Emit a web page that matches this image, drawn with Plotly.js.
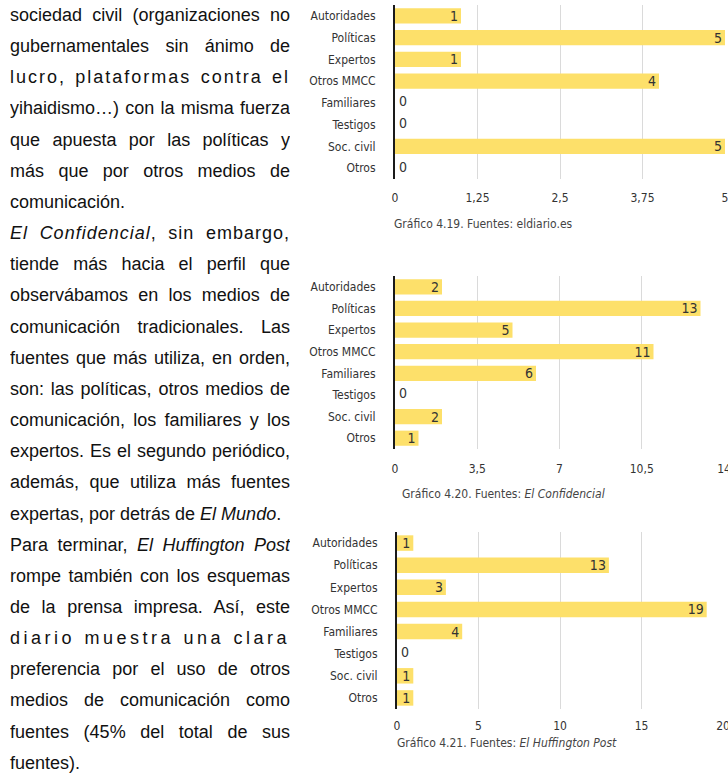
<!DOCTYPE html>
<html>
<head>
<meta charset="utf-8">
<script src="https://cdn.plot.ly/plotly-3.0.1.min.js"></script>
<style>
  html, body { margin: 0; padding: 0; background: #fff; }
  #wrap { position: relative; width: 728px; height: 782px; overflow: hidden; }
  #chart { position: absolute; left: 0; top: 0; width: 728px; height: 782px; }
  #text { position: absolute; left: 10px; top: 0px; width: 280px;
          font-family: "Liberation Sans", Arial, Helvetica, sans-serif;
          font-size: 18px; line-height: 31.17px; color: #111; }
  #text .ln { white-space: nowrap; height: 31.17px; }
  #text .j { text-align: justify; text-align-last: justify; white-space: normal; overflow: hidden; }
</style>
</head>
<body>
<div id="wrap">
  <div id="chart"></div>
  <div id="text">
    <div class="ln j">sociedad civil (organizaciones no</div>
    <div class="ln j">gubernamentales sin ánimo de</div>
    <div class="ln j" style="letter-spacing:2px">lucro, plataformas contra el</div>
    <div class="ln j">yihaidismo…) con la misma fuerza</div>
    <div class="ln j">que apuesta por las políticas y</div>
    <div class="ln j">más que por otros medios de</div>
    <div class="ln">comunicación.</div>
    <div class="ln j" style="letter-spacing:1px"><i>El Confidencial</i>, sin embargo,</div>
    <div class="ln j">tiende más hacia el perfil que</div>
    <div class="ln j">observábamos en los medios de</div>
    <div class="ln j">comunicación tradicionales. Las</div>
    <div class="ln j">fuentes que más utiliza, en orden,</div>
    <div class="ln j">son: las políticas, otros medios de</div>
    <div class="ln j">comunicación, los familiares y los</div>
    <div class="ln j">expertos. Es el segundo periódico,</div>
    <div class="ln j">además, que utiliza más fuentes</div>
    <div class="ln">expertas, por detrás de <i>El Mundo</i>.</div>
    <div class="ln j">Para terminar, <i>El Huffington Post</i></div>
    <div class="ln j">rompe también con los esquemas</div>
    <div class="ln j">de la prensa impresa. Así, este</div>
    <div class="ln j" style="letter-spacing:3.5px">diario muestra una clara</div>
    <div class="ln j">preferencia por el uso de otros</div>
    <div class="ln j">medios de comunicación como</div>
    <div class="ln j">fuentes (45% del total de sus</div>
    <div class="ln">fuentes).</div>
  </div>
</div>
<script>
// ---- data ----
const categories = ['Autoridades','Políticas','Expertos','Otros MMCC','Familiares','Testigos','Soc. civil','Otros'];
const eldiario = [1, 5, 1, 4, 0, 0, 5, 0];
const confidencial = [2, 13, 5, 11, 6, 0, 2, 1];
const huffington = [1, 13, 3, 19, 4, 0, 1, 1];
const axisMax = [5, 14, 20];
const axisStep = [1.25, 3.5, 5];
const captions = [
  'Gráfico 4.19. Fuentes: eldiario.es',
  'Gráfico 4.20. Fuentes: <i>El Confidencial</i>',
  'Gráfico 4.21. Fuentes: <i>El Huffington Post</i>'
];

// ---- layout helpers ----
const W = 728, H = 782;
const FONT = '"Liberation Sans Narrow", "DejaVu Sans Condensed", "Roboto", sans-serif';
const BAR = '#FDE06A';
const TXT = '#333333';
const hx = p => p / W;
const vy = p => 1 - p / H;

// pixel boxes: [left, right, top, bottom]
const boxes = [
  [395, 725, 5, 179],
  [395, 724, 276, 449],
  [397, 723, 532, 709]
];
const tickStandoff = [10, 11, 8];
const capPos = [[392, 224], [400, 494], [395, 743]];
const series = [eldiario, confidencial, huffington];

const data = [];
const layout = {
  width: W, height: H,
  margin: {l: 0, r: 0, t: 0, b: 0},
  paper_bgcolor: 'rgba(0,0,0,0)',
  plot_bgcolor: 'rgba(0,0,0,0)',
  showlegend: false,
  separators: ',.',
  hovermode: false,
  bargap: 0.3,
  font: {family: FONT, size: 12, color: TXT},
  annotations: []
};

series.forEach((vals, i) => {
  const n = i === 0 ? '' : String(i + 1);
  const [l, r, t, b] = boxes[i];
  data.push({
    type: 'bar',
    orientation: 'h',
    x: vals,
    y: categories,
    xaxis: 'x' + n,
    yaxis: 'y' + n,
    marker: {color: BAR},
    text: vals.map(v => v === 0 ? '' : String(v)),
    textposition: 'auto',
    textangle: 0,
    insidetextanchor: 'end',
    cliponaxis: false,
    insidetextfont: {family: FONT, size: 14, color: TXT},
    outsidetextfont: {family: FONT, size: 14, color: TXT},
    constraintext: 'none'
  });
  // labels for zero-length bars, drawn just right of the axis
  const zx = [], zy = [], zt = [];
  vals.forEach((v, k) => { if (v === 0) { zx.push(v); zy.push(categories[k]); zt.push('\u00a0' + String(v)); } });
  data.push({
    type: 'scatter',
    mode: 'text',
    x: zx, y: zy, text: zt,
    textposition: 'middle right',
    textfont: {family: FONT, size: 14, color: TXT},
    cliponaxis: false,
    xaxis: 'x' + n,
    yaxis: 'y' + n
  });
  layout['xaxis' + n] = {
    domain: [hx(l), hx(r)],
    anchor: 'y' + n,
    range: [0, axisMax[i]],
    tick0: 0,
    dtick: axisStep[i],
    showgrid: true,
    gridcolor: '#dadada',
    gridwidth: 1,
    zeroline: false,
    showline: false,
    ticks: '',
    ticklabelstandoff: tickStandoff[i],
    ticklabeloverflow: 'allow',
    tickfont: {family: FONT, size: 12, color: TXT},
    fixedrange: true
  };
  layout['yaxis' + n] = {
    domain: [vy(b), vy(t)],
    anchor: 'x' + n,
    autorange: 'reversed',
    showline: true,
    linecolor: '#1a1a1a',
    linewidth: 2,
    showgrid: false,
    zeroline: false,
    ticks: '',
    ticklabelstandoff: 15,
    tickfont: {family: FONT, size: 12, color: TXT},
    fixedrange: true
  };
  layout.annotations.push({
    xref: 'paper', yref: 'paper',
    x: hx(capPos[i][0]), y: vy(capPos[i][1]),
    xanchor: 'left', yanchor: 'middle',
    showarrow: false,
    text: captions[i],
    font: {family: FONT, size: 12, color: '#444'}
  });
});

Plotly.newPlot('chart', data, layout, {staticPlot: true, displayModeBar: false});
</script>
</body>
</html>
